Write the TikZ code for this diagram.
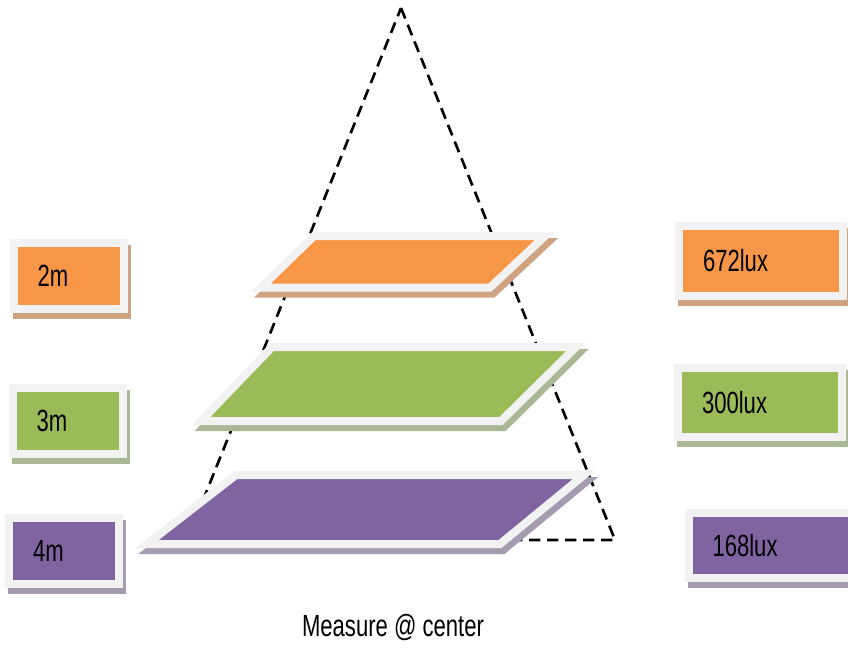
\documentclass[tikz,border=0pt]{standalone}
\usepackage{fontspec}
\setmainfont[FakeStretch=0.72]{Liberation Sans}
\usetikzlibrary{shadows}

\definecolor{plateorange}{HTML}{F79646}
\definecolor{plategreen}{HTML}{9BBB59}
\definecolor{platepurple}{HTML}{8064A2}
\definecolor{rimwhite}{HTML}{F2F2F2}
\definecolor{shadeorange}{HTML}{CFA382}
\definecolor{shadegreen}{HTML}{AAB795}
\definecolor{shadepurple}{HTML}{A59BB0}

\tikzset{
	platerim/.style={draw=rimwhite, line width=6pt, fill=#1},
	dropshade/.style={general shadow={shadow xshift=2.25pt, shadow yshift=-4.5pt,
		fill=#1, draw=#1, line width=6pt}},
	orangeplate/.style={dropshade=shadeorange, platerim=plateorange},
	greenplate/.style={dropshade=shadegreen, platerim=plategreen},
	purpleplate/.style={dropshade=shadepurple, platerim=platepurple},
	labelbox/.style={font=\fontsize{23}{27}\selectfont, align=left,
		inner xsep=18pt, inner ysep=0pt, minimum height=49.5pt},
	leftbox/.style={labelbox, text width=46.5pt},
	rightbox/.style={labelbox, text width=87pt},
	cone/.style={line width=2pt, dash pattern=on 8.5pt off 5pt}
}

\begin{document}
\begin{tikzpicture}[x=0.75pt, y=-0.75pt]
	\useasboundingbox (0,0) rectangle (848,647);
	\clip (0,0) rectangle (848,647);

	\path
	(401,  8) coordinate (T1)
	(615,540) coordinate (T2)
	(187,540) coordinate (T3)
	(314,236) coordinate (O1)
	(545,236) coordinate (O2)
	(490,287.5) coordinate (O3)
	(261,287.5) coordinate (O4)
	(272,347) coordinate (G1)
	(576,347) coordinate (G2)
	(501,421) coordinate (G3)
	(201,421) coordinate (G4)
	(236,475) coordinate (P1)
	(584,475) coordinate (P2)
	(500,544) coordinate (P3)
	(147,544) coordinate (P4);

	% light cone
	\draw[cone] (T1)--(T2)--(T3)--cycle;

	% plates at the three distances
	\draw[orangeplate] (O1)--(O2)--(O3)--(O4)--cycle;
	\draw[greenplate] (G1)--(G2)--(G3)--(G4)--cycle;
	\draw[purpleplate] (P1)--(P2)--(P3)--(P4)--cycle;

	% distances
	\node[leftbox, orangeplate] (box2m) at (68.5,275.5) {2m};
	\node[leftbox, greenplate] (box3m) at (67.5,421) {3m};
	\node[leftbox, purpleplate] (box4m) at (64,551) {4m};

	% illuminance
	\node[rightbox, orangeplate, minimum height=52.5pt] (lux672) at (761,261) {672lux};
	\node[rightbox, greenplate, minimum height=51.75pt] (lux300) at (760,402.5) {300lux};
	\node[rightbox, purpleplate, minimum height=48.75pt] (lux168) at (770.5,545.5) {168lux};

	\node[font=\fontsize{23}{27}\selectfont] (caption) at (393,627) {Measure @ center};
\end{tikzpicture}
\end{document}
